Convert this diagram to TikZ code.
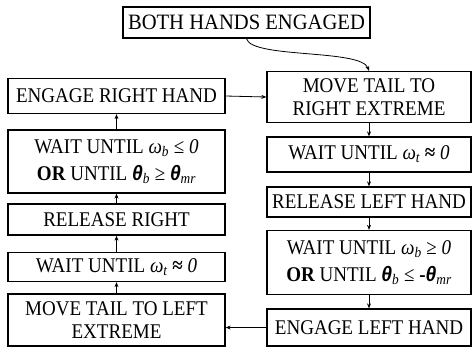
\documentclass[tikz,border=0pt]{standalone}
\usepackage{fontspec}
\setmainfont{Liberation Serif}[FakeStretch=0.91]
\newfontfamily\topf{Liberation Serif}[FakeStretch=0.94]
\newfontfamily\symf{Liberation Sans}[FakeStretch=0.92]
\usetikzlibrary{arrows.meta,calc}
\newcommand\mytheta{{\symf\bfseries\itshape θ}}
\newcommand\myomega{{\itshape ω}}
\newcommand\mysub[1]{\textsubscript{\itshape #1}}
\tikzset{
  box/.style={draw,line width=1.3bp,inner sep=0pt,align=center,
    font=\fontsize{21}{23}\selectfont},
  mathbox/.style={font=\fontsize{21}{26.5}\selectfont},
  lcol/.style={box,minimum width=217bp},
  rcol/.style={box,minimum width=204bp},
  arr/.style={line width=0.8bp,-{Stealth[length=5bp,width=4bp]}}
}
\begin{document}
\begin{tikzpicture}[x=1bp,y=-1bp]
\useasboundingbox (0,0) rectangle (474,356);
\node[box,minimum width=247bp,minimum height=31bp,font=\topf\fontsize{22}{25}\selectfont] (top) at (246.5,22.5) {BOTH HANDS ENGAGED};
% left column
\node[lcol,minimum height=35bp] (erh) at (116.5,96) {ENGAGE RIGHT HAND};
\node[lcol,mathbox,minimum height=63bp] (w1) at (116.5,161.5) {WAIT UNTIL \myomega\mysub{b} ≤ {\itshape 0}\\{\bfseries OR} UNTIL \mytheta\mysub{b} ≥ \mytheta\mysub{mr}};
\node[lcol,minimum height=31bp] (rr) at (116.5,219.5) {RELEASE RIGHT};
\node[lcol,minimum height=29bp] (w2) at (116.5,267) {WAIT UNTIL \myomega\mysub{t} {\bfseries ≈} {\itshape 0}};
\node[lcol,minimum height=52bp] (mtl) at (116.5,320) {MOVE TAIL TO LEFT\\EXTREME};
% right column
\node[rcol,minimum height=51bp] (mtr) at (369,97) {MOVE TAIL TO\\RIGHT EXTREME};
\node[rcol,minimum height=35bp] (w3) at (369,154.5) {WAIT UNTIL \myomega\mysub{t} {\bfseries ≈} {\itshape 0}};
\node[rcol,minimum height=30bp] (rlh) at (369,202) {RELEASE LEFT HAND};
\node[rcol,mathbox,minimum height=64bp] (w4) at (369,262.5) {WAIT UNTIL \myomega\mysub{b} ≥ {\itshape 0}\\{\bfseries OR} UNTIL \mytheta\mysub{b} ≤ {\bfseries -}\mytheta\mysub{mr}};
\node[rcol,minimum height=37bp] (elh) at (369,327.5) {ENGAGE LEFT HAND};
% arrows
\draw[arr] (top.south) .. controls ($(top.south)+(5,20)$) and ($(mtr.north)+(-8,-22)$) .. (mtr.north);
\draw[arr] (erh.east) -- (mtr.west);
\draw[arr] (mtr.south) -- (w3.north);
\draw[arr] (w3.south) -- (rlh.north);
\draw[arr] (rlh.south) -- (w4.north);
\draw[arr] (w4.south) -- (elh.north);
\draw[arr] (elh.west) -- (elh.west -| mtl.east);
\draw[arr] (mtl.north) -- (w2.south);
\draw[arr] (w2.north) -- (rr.south);
\draw[arr] (rr.north) -- (w1.south);
\draw[arr] (w1.north) -- (erh.south);
\end{tikzpicture}
\end{document}
